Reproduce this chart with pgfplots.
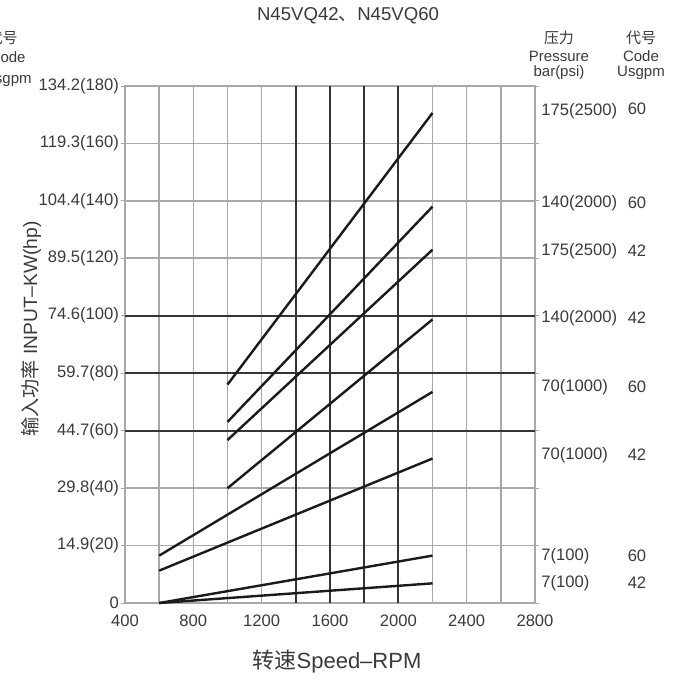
\documentclass[border=0pt]{standalone}
\usepackage{pgfplots}
\pgfplotsset{compat=1.18}
\usepackage{fontspec}
\setmainfont{Liberation Sans}
\newfontfamily\cjk{Noto Sans CJK SC}
\definecolor{txt}{HTML}{3A3A3A}
\definecolor{gridl}{HTML}{A8A8A8}
\definecolor{gridd}{HTML}{353535}
\definecolor{ln}{HTML}{1A1A1A}
\begin{document}
\begin{tikzpicture}
\begin{axis}[
  at={(62.5pt,-301.5pt)}, anchor=south west,
  scale only axis, width=205pt, height=258.5pt,
  xmin=400, xmax=2800, ymin=0, ymax=134.2,
  xtick={400,800,...,2800},
  minor xtick={600,800,1000,1200,2200,2400,2600},
  ytick={0,14.9,29.8,44.7,59.7,74.6,89.5,104.4,119.3,134.2},
  minor ytick={14.9,29.8,89.5,104.4,119.3},
  yticklabels={0,14.9(20),29.8(40),44.7(60),59.7(80),74.6(100),89.5(120),104.4(140),119.3(160),134.2(180)},
  /pgf/number format/assume math mode=true,
  /pgf/number format/1000 sep={},
  xmajorgrids=false, ymajorgrids=false,
  xminorgrids=true, yminorgrids=true,
  minor grid style={gridl, line width=0.8pt},
  minor tick length=0pt,
  axis line style={gridl, line width=0.8pt},
  xtick style={draw=none},
  ytick style={gridl, line width=0.5pt},
  major tick length=2pt,
  ytick align=outside,
  tick label style={font=\fontsize{8.3}{10}\selectfont, text=txt},
  yticklabel style={xshift=2.5pt},
  xticklabel style={yshift=-2.5pt},
  clip=false,
]
% darker grid lines
\draw[gridd, line width=1pt] (axis cs:1400,0) -- (axis cs:1400,134.2);
\draw[gridd, line width=1pt] (axis cs:1600,0) -- (axis cs:1600,134.2);
\draw[gridd, line width=1pt] (axis cs:1800,0) -- (axis cs:1800,134.2);
\draw[gridd, line width=1pt] (axis cs:2000,0) -- (axis cs:2000,134.2);
\draw[gridd, line width=1pt] (axis cs:400,44.7) -- (axis cs:2800,44.7);
\draw[gridd, line width=1pt] (axis cs:400,59.7) -- (axis cs:2800,59.7);
\draw[gridd, line width=1pt] (axis cs:400,74.6) -- (axis cs:2800,74.6);
\addplot[ln, line width=1.2pt] coordinates {(1000,56.7) (2200,127.2)};
\addplot[ln, line width=1.2pt] coordinates {(1000,47.0) (2200,102.9)};
\addplot[ln, line width=1.2pt] coordinates {(1000,42.3) (2200,91.7)};
\addplot[ln, line width=1.2pt] coordinates {(1000,29.8) (2200,73.6)};
\addplot[ln, line width=1.2pt] coordinates {(600,12.3) (2200,54.8)};
\addplot[ln, line width=1.2pt] coordinates {(600,8.4) (2200,37.5)};
\addplot[ln, line width=1.2pt] coordinates {(600,0) (2200,12.3)};
\addplot[ln, line width=1.2pt] coordinates {(600,0) (2200,5.1)};
\end{axis}
\begin{scope}[x=0.5pt, y=-0.5pt, every node/.style={text=txt, inner sep=0pt}]
\node[font=\fontsize{9.3}{11}\selectfont] at (348,16) {N45VQ42{\cjk 、}N45VQ60};
% right header
\node[font=\fontsize{7.5}{9}\selectfont] at (559,38) {\cjk 压力};
\node[font=\fontsize{7.5}{9}\selectfont] at (559,56) {Pressure};
\node[font=\fontsize{7.5}{9}\selectfont] at (559,73) {bar(psi)};
\node[font=\fontsize{7.5}{9}\selectfont] at (641,38) {\cjk 代号};
\node[font=\fontsize{7.5}{9}\selectfont] at (641,56) {Code};
\node[font=\fontsize{7.5}{9}\selectfont] at (641,73) {Usgpm};
% left header (cut by the page edge, as in the source)
\node[font=\fontsize{7.5}{9}\selectfont, anchor=east] at (18,38) {\cjk 代号};
\node[font=\fontsize{7.5}{9}\selectfont, anchor=east] at (26,57) {Code};
\node[font=\fontsize{7.5}{9}\selectfont, anchor=east] at (32,80) {Usgpm};
% right labels
\begin{scope}[every node/.append style={font=\fontsize{8.3}{10}\selectfont}]
\node[anchor=west] at (541,111) {175(2500)};
\node[anchor=west] at (541,203) {140(2000)};
\node[anchor=west] at (541,251) {175(2500)};
\node[anchor=west] at (541,318) {140(2000)};
\node[anchor=west] at (541,387) {70(1000)};
\node[anchor=west] at (541,455) {70(1000)};
\node[anchor=west] at (541,556) {7(100)};
\node[anchor=west] at (541,583) {7(100)};
\node at (637,109) {60};
\node at (637,203) {60};
\node at (637,251) {42};
\node at (637,318) {42};
\node at (637,387) {60};
\node at (637,455) {42};
\node at (637,556) {60};
\node at (637,583) {42};
\end{scope}
\node[font=\fontsize{11}{13}\selectfont] at (337,662) {{\cjk 转速}Speed–RPM};
\node[font=\fontsize{9.6}{12}\selectfont, rotate=90] at (31,329) {{\cjk 输入功率} INPUT–KW(hp)};
\end{scope}
\pgfresetboundingbox
\useasboundingbox (0pt,0pt) rectangle (341pt,-340pt);
\end{tikzpicture}
\end{document}
